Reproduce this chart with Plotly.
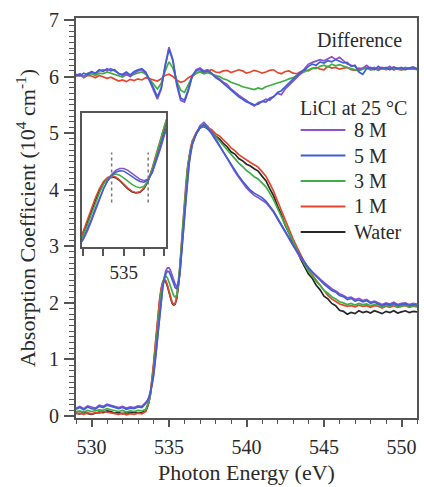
import numpy as np
import plotly.graph_objects as go

# ---------------------------------------------------------------- data
# energy grid of the spectra (eV): coarse pre-edge, fine edge, coarse post-edge
energy = np.round(np.concatenate([
    np.arange(529.0, 533.5001, 0.25),
    np.arange(533.6, 536.4001, 0.1),
    np.arange(536.5, 551.0001, 0.25),
]), 2)

# absorption coefficient (10^4 cm^-1)
water = [0.05, 0.04, 0.06, 0.05, 0.03, 0.05, 0.07, 0.06, 0.09, 0.08, 0.05, 0.06, 0.04, 0.06, 0.05, 0.07, 0.05, 0.06, 0.09,
         0.15, 0.24, 0.38, 0.58, 0.86, 1.16, 1.48, 1.78, 2.04, 2.24, 2.35, 2.40, 2.37, 2.29, 2.18, 2.07, 1.99, 1.96, 1.98,
         2.08, 2.28, 2.58, 2.96, 3.36, 3.74, 4.08, 4.36, 4.57, 4.72,
         4.84, 5.00, 5.09, 5.12, 5.07, 5.03, 4.95, 4.90, 4.82, 4.76, 4.67, 4.63, 4.55, 4.51, 4.45, 4.42, 4.37, 4.33, 4.24,
         4.16, 4.02, 3.89, 3.71, 3.56, 3.37, 3.23, 3.06, 2.93, 2.77, 2.65, 2.51, 2.43, 2.31, 2.23, 2.12, 2.07, 1.99, 1.95,
         1.87, 1.85, 1.80, 1.83, 1.81, 1.86, 1.83, 1.85, 1.82, 1.86, 1.84, 1.81, 1.85, 1.83, 1.86, 1.82, 1.84, 1.86, 1.83,
         1.85, 1.84]
licl_1m = [0.04, 0.05, 0.03, 0.06, 0.04, 0.06, 0.05, 0.08, 0.07, 0.06, 0.04, 0.03, 0.05, 0.02, 0.04, 0.03, 0.05, 0.04, 0.08,
           0.16, 0.26, 0.41, 0.62, 0.92, 1.22, 1.54, 1.83, 2.08, 2.27, 2.38, 2.42, 2.39, 2.31, 2.20, 2.09, 2.01, 1.97, 1.99,
           2.10, 2.32, 2.64, 3.03, 3.43, 3.82, 4.14, 4.41, 4.60, 4.75,
           4.86, 5.01, 5.10, 5.13, 5.10, 5.06, 4.99, 4.95, 4.88, 4.82, 4.74, 4.69, 4.62, 4.57, 4.52, 4.48, 4.44, 4.40, 4.32,
           4.24, 4.11, 3.97, 3.80, 3.63, 3.45, 3.30, 3.13, 2.99, 2.84, 2.71, 2.58, 2.49, 2.38, 2.29, 2.20, 2.13, 2.07, 2.03,
           1.98, 1.96, 1.94, 1.95, 1.93, 1.96, 1.94, 1.95, 1.92, 1.95, 1.94, 1.91, 1.94, 1.92, 1.95, 1.92, 1.93, 1.95, 1.92,
           1.94, 1.93]
licl_3m = [0.08, 0.09, 0.07, 0.10, 0.08, 0.09, 0.11, 0.10, 0.13, 0.11, 0.09, 0.08, 0.10, 0.07, 0.09, 0.08, 0.10, 0.09, 0.12,
           0.18, 0.26, 0.38, 0.56, 0.80, 1.08, 1.38, 1.68, 1.96, 2.19, 2.35, 2.44, 2.47, 2.44, 2.37, 2.28, 2.19, 2.13, 2.10,
           2.14, 2.30, 2.60, 2.98, 3.38, 3.76, 4.08, 4.36, 4.56, 4.71,
           4.83, 4.99, 5.09, 5.13, 5.09, 5.02, 4.94, 4.87, 4.79, 4.71, 4.61, 4.55, 4.47, 4.41, 4.34, 4.29, 4.23, 4.19, 4.12,
           4.05, 3.94, 3.82, 3.67, 3.52, 3.36, 3.22, 3.07, 2.94, 2.80, 2.68, 2.56, 2.48, 2.38, 2.31, 2.22, 2.17, 2.11, 2.07,
           2.02, 2.00, 1.97, 1.99, 1.96, 1.99, 1.97, 1.98, 1.95, 1.97, 1.96, 1.93, 1.96, 1.94, 1.97, 1.93, 1.95, 1.96, 1.93,
           1.95, 1.94]
licl_5m = [0.12, 0.15, 0.11, 0.16, 0.13, 0.12, 0.17, 0.15, 0.19, 0.17, 0.14, 0.13, 0.15, 0.12, 0.14, 0.13, 0.16, 0.15, 0.22,
           0.26, 0.32, 0.41, 0.54, 0.72, 0.96, 1.24, 1.54, 1.83, 2.08, 2.28, 2.42, 2.52, 2.56, 2.55, 2.49, 2.41, 2.33, 2.27,
           2.25, 2.32, 2.52, 2.84, 3.20, 3.58, 3.94, 4.24, 4.48, 4.66,
           4.80, 4.98, 5.10, 5.15, 5.08, 4.99, 4.88, 4.78, 4.66, 4.55, 4.44, 4.34, 4.24, 4.15, 4.06, 3.99, 3.94, 3.90, 3.86,
           3.80, 3.72, 3.62, 3.50, 3.39, 3.26, 3.15, 3.02, 2.92, 2.80, 2.71, 2.62, 2.54, 2.46, 2.40, 2.33, 2.28, 2.22, 2.19,
           2.13, 2.11, 2.06, 2.08, 2.03, 2.05, 2.02, 2.04, 1.99, 2.01, 1.98, 1.95, 1.98, 1.96, 1.99, 1.95, 1.97, 1.98, 1.95,
           1.97, 1.96]
licl_8m = [0.14, 0.17, 0.13, 0.18, 0.16, 0.14, 0.19, 0.17, 0.21, 0.19, 0.16, 0.15, 0.17, 0.14, 0.16, 0.15, 0.18, 0.17, 0.24,
           0.27, 0.33, 0.42, 0.54, 0.70, 0.92, 1.19, 1.49, 1.79, 2.06, 2.29, 2.46, 2.57, 2.62, 2.62, 2.57, 2.49, 2.40, 2.33,
           2.29, 2.34, 2.50, 2.80, 3.15, 3.52, 3.88, 4.20, 4.45, 4.64,
           4.79, 4.99, 5.13, 5.19, 5.12, 5.02, 4.90, 4.79, 4.66, 4.54, 4.43, 4.32, 4.22, 4.12, 4.03, 3.96, 3.90, 3.86, 3.82,
           3.77, 3.69, 3.60, 3.48, 3.36, 3.24, 3.13, 3.00, 2.90, 2.79, 2.70, 2.62, 2.55, 2.48, 2.42, 2.36, 2.30, 2.25, 2.21,
           2.16, 2.13, 2.09, 2.10, 2.06, 2.08, 2.04, 2.06, 2.01, 2.03, 2.00, 1.97, 2.00, 1.98, 2.01, 1.97, 1.99, 2.00, 1.97,
           1.99, 1.98]

# difference spectra (solution - water), drawn shifted up by DIFF_OFFSET
diff_energy = np.round(np.arange(529.0, 551.0001, 0.25), 2)
DIFF_OFFSET = 6.0
diff_8m = [0.02, 0.05, 0.00, 0.06, 0.08, 0.05, 0.10, 0.12, 0.11, 0.14,
           0.10, 0.06, 0.02, 0.05, 0.00, 0.06, 0.10, 0.12, 0.06, -0.08,
           -0.25, -0.40, -0.22, 0.20, 0.52, 0.30, -0.15, -0.42, -0.45, -0.25,
           0.00, 0.12, 0.15, 0.10, 0.12, 0.05, 0.00, -0.04, -0.10, -0.14,
           -0.22, -0.28, -0.33, -0.38, -0.42, -0.48, -0.52, -0.46, -0.44, -0.40,
           -0.42, -0.35, -0.30, -0.32, -0.22, -0.15, -0.08, -0.02, 0.05, 0.14,
           0.22, 0.25, 0.28, 0.30, 0.28, 0.32, 0.35, 0.30, 0.34, 0.28,
           0.22, 0.20, 0.18, 0.12, 0.15, 0.20, 0.14, 0.16, 0.12, 0.15,
           0.14, 0.18, 0.12, 0.15, 0.13, 0.16, 0.14, 0.15, 0.13]
diff_5m = [0.04, 0.01, 0.06, 0.03, 0.09, 0.06, 0.12, 0.09, 0.14, 0.10,
           0.12, 0.05, 0.04, 0.08, 0.03, 0.09, 0.12, 0.14, 0.08, -0.05,
           -0.20, -0.36, -0.20, 0.18, 0.48, 0.28, -0.12, -0.38, -0.42, -0.22,
           0.02, 0.10, 0.13, 0.08, 0.10, 0.06, -0.02, -0.06, -0.12, -0.18,
           -0.24, -0.30, -0.36, -0.40, -0.45, -0.47, -0.50, -0.49, -0.44, -0.45,
           -0.38, -0.36, -0.28, -0.25, -0.18, -0.12, -0.05, 0.02, 0.08, 0.12,
           0.18, 0.22, 0.20, 0.26, 0.24, 0.28, 0.26, 0.30, 0.27, 0.24,
           0.25, 0.18, 0.20, 0.08, 0.04, 0.14, 0.16, 0.12, 0.18, 0.14,
           0.16, 0.12, 0.17, 0.14, 0.16, 0.12, 0.15, 0.17, 0.14]
diff_3m = [0.01, 0.04, -0.01, 0.03, 0.05, 0.02, 0.06, 0.05, 0.08, 0.06,
           0.04, 0.02, -0.01, 0.03, 0.01, 0.04, 0.06, 0.08, 0.04, -0.04,
           -0.14, -0.22, -0.12, 0.10, 0.26, 0.15, -0.08, -0.24, -0.28, -0.14,
           0.00, 0.06, 0.08, 0.05, 0.07, 0.04, 0.02, 0.00, -0.04, -0.06,
           -0.10, -0.12, -0.15, -0.18, -0.20, -0.21, -0.23, -0.20, -0.22, -0.18,
           -0.16, -0.14, -0.12, -0.10, -0.07, -0.04, -0.02, 0.02, 0.05, 0.08,
           0.12, 0.15, 0.14, 0.18, 0.20, 0.17, 0.22, 0.19, 0.21, 0.18,
           0.16, 0.14, 0.12, 0.10, 0.13, 0.15, 0.12, 0.14, 0.11, 0.14,
           0.13, 0.15, 0.12, 0.14, 0.12, 0.15, 0.13, 0.14, 0.12]
diff_1m = [0.00, 0.03, -0.02, 0.02, 0.01, -0.02, 0.02, 0.00, -0.03, -0.01,
           -0.05, -0.08, -0.06, -0.09, -0.05, -0.07, -0.04, -0.06, -0.02, -0.04,
           -0.06, -0.08, -0.04, 0.02, 0.04, 0.00, -0.06, -0.10, -0.08, -0.02,
           0.02, 0.05, 0.09, 0.07, 0.10, 0.12, 0.08, 0.07, 0.10, 0.11,
           0.07, 0.09, 0.12, 0.10, 0.06, 0.08, 0.11, 0.09, 0.06, 0.08,
           0.11, 0.12, 0.07, 0.05, 0.09, 0.10, 0.06, 0.05, 0.08, 0.12,
           0.10, 0.14, 0.16, 0.13, 0.12, 0.18, 0.15, 0.16, 0.13, 0.14,
           0.16, 0.12, 0.11, 0.15, 0.14, 0.16, 0.12, 0.13, 0.15, 0.16,
           0.12, 0.15, 0.16, 0.13, 0.12, 0.14, 0.15, 0.13, 0.14]

legend_labels = ["8 M", "5 M", "3 M", "1 M", "Water"]
x_ticks = [530, 535, 540, 545, 550]
y_ticks = [0, 1, 2, 3, 4, 5, 6, 7]
inset_ticks = [535]
inset_markers = [534.7, 535.6]   # dotted guides in the inset

# ---------------------------------------------------------------- style
FONT = "Liberation Serif"
TXT = "#2a2a2a"
AX = "#555555"
colors = {"8 M": "#8a52cc", "5 M": "#3f5fd2", "3 M": "#3fae45", "1 M": "#e4472e", "Water": "#262626"}
spectra = {"8 M": licl_8m, "5 M": licl_5m, "3 M": licl_3m, "1 M": licl_1m, "Water": water}
diffs = {"8 M": diff_8m, "5 M": diff_5m, "3 M": diff_3m, "1 M": diff_1m}
draw_order = ["Water", "1 M", "3 M", "8 M", "5 M"]

W, H = 424, 487
ML, MR, MT, MB = 76, 5, 18, 69
PW, PH = W - ML - MR, H - MT - MB


def px(xp):
    return (xp - ML) / PW


def py(yp):
    return (H - MB - yp) / PH


fig = go.Figure()

# difference spectra
for name in ["1 M", "3 M", "8 M", "5 M"]:
    fig.add_trace(go.Scatter(
        x=diff_energy, y=np.array(diffs[name]) + DIFF_OFFSET, mode="lines",
        line=dict(color=colors[name], width=1.7), showlegend=False, hoverinfo="skip"))

# absorption spectra, main panel and inset
for name in draw_order:
    fig.add_trace(go.Scatter(
        x=energy, y=spectra[name], mode="lines",
        line=dict(color=colors[name], width=1.7), showlegend=False))
for name in draw_order:
    fig.add_trace(go.Scatter(
        x=energy, y=spectra[name], mode="lines", xaxis="x2", yaxis="y2",
        line=dict(color=colors[name], width=1.5), showlegend=False))

for xv in inset_markers:
    fig.add_shape(type="line", xref="x2", yref="y2", x0=xv, x1=xv, y0=1.7, y1=3.05,
                  line=dict(color="#777777", width=1.5, dash="dot"))

# hand-built legend
LEG_LINE_X0, LEG_LINE_X1, LEG_TEXT_X = 302, 347, 354
LEG_TITLE_Y, LEG_Y0, LEG_STEP = 108, 130, 25.5
fig.add_annotation(x=px(299), y=py(LEG_TITLE_Y), xref="paper", yref="paper", xanchor="left",
                   yanchor="middle", showarrow=False, text="LiCl at 25 °C",
                   font=dict(family=FONT, size=20, color=TXT))
for i, name in enumerate(legend_labels):
    yy = py(LEG_Y0 + i * LEG_STEP)
    fig.add_shape(type="line", xref="paper", yref="paper", x0=px(LEG_LINE_X0), x1=px(LEG_LINE_X1),
                  y0=yy, y1=yy, line=dict(color=colors[name], width=2))
    fig.add_annotation(x=px(LEG_TEXT_X), y=yy, xref="paper", yref="paper", xanchor="left",
                       yanchor="middle", showarrow=False, text=name,
                       font=dict(family=FONT, size=20, color=TXT))

fig.add_annotation(x=px(361), y=py(40), xref="paper", yref="paper", xanchor="center",
                   yanchor="middle", showarrow=False, text="Difference",
                   font=dict(family=FONT, size=20, color=TXT))

fig.update_layout(
    width=W, height=H,
    margin=dict(l=ML, r=MR, t=MT, b=MB),
    paper_bgcolor="white", plot_bgcolor="white",
    font=dict(family=FONT, size=20, color=TXT),
    xaxis=dict(
        range=[529.0, 551.0], tickvals=x_ticks, ticks="outside", ticklen=7, tickwidth=1.5,
        tickcolor=AX, showline=True, linecolor=AX, linewidth=2, mirror=True,
        showgrid=False, zeroline=False, ticklabelstandoff=3,
        minor=dict(dtick=1, ticks="outside", ticklen=4, tickwidth=1.2, tickcolor=AX),
        title=dict(text="Photon Energy (eV)", standoff=8, font=dict(size=22)),
        tickfont=dict(size=20),
    ),
    yaxis=dict(
        range=[-0.035, 7.035], tickvals=y_ticks, ticks="outside", ticklen=10, tickwidth=1.5,
        tickcolor=AX, showline=True, linecolor=AX, linewidth=2, mirror=True,
        showgrid=False, zeroline=False, ticklabelstandoff=1,
        minor=dict(dtick=0.1, ticks="outside", ticklen=5, tickwidth=1.2, tickcolor=AX),
        title=dict(text="Absorption Coefficient (10<sup>4</sup> cm<sup>-1</sup>)", standoff=7,
                   font=dict(size=22)),
        tickfont=dict(size=20),
    ),
    xaxis2=dict(
        domain=[px(82), px(167)], anchor="y2", range=[533.97, 536.05],
        tickvals=inset_ticks, ticks="outside", ticklen=7, tickwidth=1.5,
        tickcolor=AX, showline=True, linecolor=AX, linewidth=1.5, mirror=True,
        showgrid=False, zeroline=False, tickfont=dict(size=19),
        minor=dict(tick0=534.0, dtick=0.5, ticks="outside", ticklen=7, tickwidth=1.5, tickcolor=AX),
    ),
    yaxis2=dict(
        domain=[py(247), py(113)], anchor="x2", range=[0.5, 4.12],
        showticklabels=False, ticks="", showline=True, linecolor=AX, linewidth=1.5, mirror=True,
        showgrid=False, zeroline=False,
    ),
)

fig.write_html("out.html")
